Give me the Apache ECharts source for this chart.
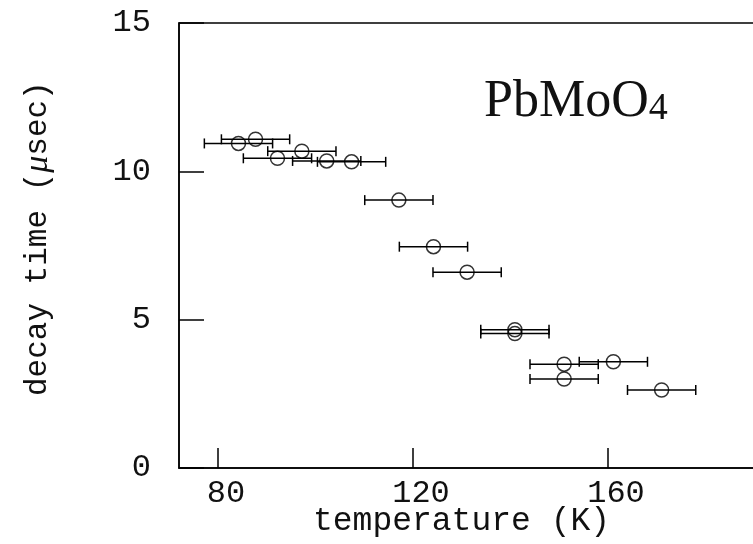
<!DOCTYPE html>
<html>
<head>
<meta charset="utf-8">
<script src="https://cdn.jsdelivr.net/npm/echarts@6/dist/echarts.min.js"></script>
<style>html,body{margin:0;padding:0;background:#fff;}#c{width:753px;height:544px;}</style>
</head>
<body>
<div id="c"></div>
<script>
// Data
var temperature = [84.2, 87.7, 92.2, 97.2, 102.3, 107.4, 117.1, 124.2, 131.1, 140.9, 140.9, 151.0, 151.0, 161.1, 171.0];
var decayTime   = [10.94, 11.08, 10.44, 10.68, 10.35, 10.32, 9.03, 7.46, 6.60, 4.66, 4.53, 3.50, 3.00, 3.58, 2.63];
var tempError   = [7, 7, 7, 7, 7, 7, 7, 7, 7, 7, 7, 7, 7, 7, 7];
var xTicks = [80, 120, 160];
var yTicks = [0, 5, 10, 15];

var points = temperature.map(function (t, i) { return [t, decayTime[i], tempError[i]]; });

var chart = echarts.init(document.getElementById('c'), null, { renderer: 'canvas' });
var FONT = '"Liberation Mono", "DejaVu Sans Mono", monospace';
var SERIF = '"Liberation Serif", serif';
var LINE = { stroke: '#000', lineWidth: 1.5 };

chart.setOption({
  backgroundColor: '#fff',
  animation: false,
  grid: { left: 179, top: 23, width: 624, height: 445, show: true, borderColor: '#000', borderWidth: 1.5,
          backgroundColor: 'transparent', outerBoundsMode: 'none', containLabel: false },
  xAxis: {
    type: 'value', min: 72, max: 200,
    axisLine: { show: true, lineStyle: { color: '#000', width: 1.5 } },
    axisTick: { show: true, inside: true, length: 20, customValues: xTicks, lineStyle: { color: '#000', width: 1.5 } },
    axisLabel: { customValues: xTicks, color: '#111', fontFamily: FONT, fontSize: 32, margin: 10, padding: [0, 0, 0, 16] },
    splitLine: { show: false }
  },
  yAxis: {
    type: 'value', min: 0, max: 15, interval: 5,
    axisLine: { show: true, lineStyle: { color: '#000', width: 1.5 } },
    axisTick: { show: true, inside: true, length: 25, lineStyle: { color: '#000', width: 1.5 } },
    axisLabel: { customValues: yTicks, color: '#111', fontFamily: FONT, fontSize: 32, margin: 28 },
    splitLine: { show: false }
  },
  graphic: [
    { type: 'text', left: 313, top: 505, style: { text: 'temperature (K)', font: '33px ' + FONT, fill: '#111' } },
    { type: 'text', x: 21, y: 396, rotation: Math.PI / 2,
      style: {
        rich: {
          n: { fontFamily: FONT, fontSize: 31, fill: '#111' },
          m: { fontFamily: SERIF, fontStyle: 'italic', fontSize: 34, fill: '#111' }
        },
        text: '{n|decay time (}{m|μ}{n|sec)}', textVerticalAlign: 'top'
      } },
    { type: 'text', left: 484, top: 76,
      style: { rich: { a: { fontFamily: SERIF, fontSize: 52, fill: '#111' }, b: { fontFamily: SERIF, fontSize: 38, fill: '#111', verticalAlign: 'bottom' } }, text: '{a|PbMoO}{b|4}' } }
  ],
  series: [
    {
      type: 'custom',
      data: points,
      encode: { x: 0, y: 1 },
      renderItem: function (params, api) {
        var x = api.value(0), y = api.value(1), e = api.value(2);
        var lo = api.coord([x - e, y]);
        var hi = api.coord([x + e, y]);
        var c = 5;
        return {
          type: 'group',
          children: [
            { type: 'line', shape: { x1: lo[0], y1: lo[1], x2: hi[0], y2: hi[1] }, style: LINE },
            { type: 'line', shape: { x1: lo[0], y1: lo[1] - c, x2: lo[0], y2: lo[1] + c }, style: LINE },
            { type: 'line', shape: { x1: hi[0], y1: hi[1] - c, x2: hi[0], y2: hi[1] + c }, style: LINE }
          ]
        };
      },
      z: 2
    },
    {
      type: 'scatter',
      data: points,
      symbol: 'circle',
      symbolSize: 14,
      itemStyle: { color: 'rgba(255,255,255,0)', borderColor: '#000', borderWidth: 1.5 },
      z: 3
    }
  ]
});
</script>
</body>
</html>
